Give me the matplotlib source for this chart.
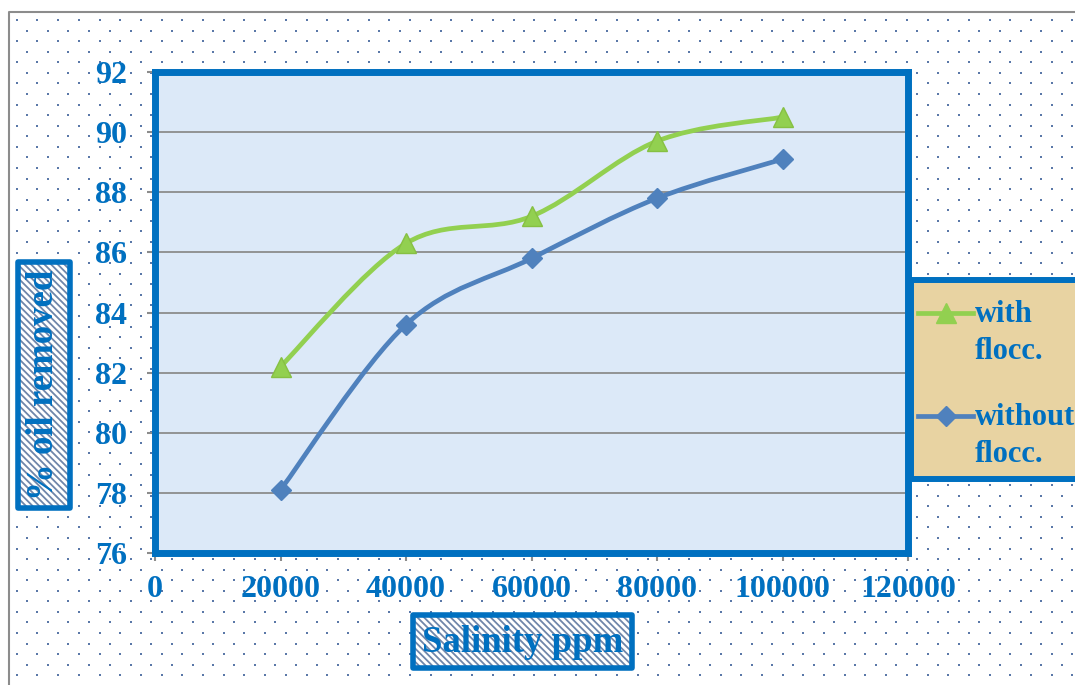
import numpy as np
import matplotlib
matplotlib.use("Agg")
import matplotlib.pyplot as plt
from matplotlib.path import Path
from matplotlib.patches import PathPatch, Rectangle
from matplotlib.lines import Line2D

salinity = [20000, 40000, 60000, 80000, 100000]
with_flocc = [82.2, 86.3, 87.2, 89.7, 90.5]
without_flocc = [78.1, 83.6, 85.8, 87.8, 89.1]

BLUE = "#0070c0"
GREEN = "#92d050"
STEEL = "#4f81bd"
SERIF = "Liberation Serif"

W, H = 1075, 685


def smooth_path(xs, ys):
    # cubic bezier through every point, tangents from neighbouring points
    pts = np.column_stack([xs, ys]).astype(float)
    n = len(pts)
    verts = [pts[0]]
    codes = [Path.MOVETO]
    for i in range(n - 1):
        p_prev = pts[i - 1] if i > 0 else pts[i]
        p_next2 = pts[i + 2] if i + 2 < n else pts[i + 1]
        c1 = pts[i] + (pts[i + 1] - p_prev) / 6
        c2 = pts[i + 1] - (p_next2 - pts[i]) / 6
        verts += [c1, c2, pts[i + 1]]
        codes += [Path.CURVE4] * 3
    return Path(verts, codes)


plt.rcParams["hatch.linewidth"] = 1.3
fig = plt.figure(figsize=(W / 100, H / 100), dpi=100)

# page background: dotted pattern in pixel coordinates
bg = fig.add_axes([0, 0, 1, 1], zorder=-5)
bg.set_xlim(0, W)
bg.set_ylim(H, 0)
bg.axis("off")
dx, dy = 20.7, 10.57
dots_x, dots_y = [], []
for r in range(70):
    yy = 20 + r * dy
    x0 = 16.7 if r % 2 == 0 else 27.0
    for c in range(60):
        dots_x.append(x0 + c * dx)
        dots_y.append(yy)
bg.scatter(dots_x, dots_y, s=2.2, marker="s", color="#5a78a8", linewidths=0, zorder=1)
bg.plot([9, 9, W + 5], [H + 5, 12, 12], color="#8c8c8c", lw=1.5, zorder=2)

# hatched boxes behind the axis titles
for (x0, y0, w, h) in [(18, 262, 52, 246), (413, 615, 219, 53)]:
    bg.add_patch(Rectangle((x0, y0), w, h, facecolor="white", edgecolor="#6f86aa",
                           hatch="\\\\\\\\\\", lw=0, zorder=3))
    bg.add_patch(Rectangle((x0, y0), w, h, fill=False, edgecolor=BLUE, lw=4,
                           zorder=4, joinstyle="round"))
bg.text(44, 385, "% oil removed", rotation=90, ha="center", va="center",
        family=SERIF, fontweight="bold", fontsize=26.5, color=BLUE, zorder=5)
bg.text(523, 642, "Salinity ppm", ha="center", va="center",
        family=SERIF, fontweight="bold", fontsize=26.5, color=BLUE, zorder=5)

ax = fig.add_axes([155 / W, 1 - 553 / H, (908 - 155) / W, (553 - 72) / H])
ax.set_facecolor("#dce9f8")
ax.set_xlim(0, 120000)
ax.set_ylim(76, 92)
ax.set_xticks(np.arange(0, 120001, 20000))
ax.set_yticks(np.arange(76, 93, 2))
ax.yaxis.grid(True, color="#8c8c8c", lw=1.3)
ax.set_axisbelow(True)
for s in ax.spines.values():
    s.set_color(BLUE)
    s.set_linewidth(5)
ax.tick_params(axis="both", direction="out", length=6, width=1.5, color="#8c8c8c",
               labelcolor=BLUE, labelsize=23)
ax.tick_params(axis="y", pad=14)
ax.tick_params(axis="x", pad=10)
for lab in ax.get_xticklabels() + ax.get_yticklabels():
    lab.set_family(SERIF)
    lab.set_fontweight("bold")

ax.add_patch(PathPatch(smooth_path(salinity, with_flocc), fill=False,
                       edgecolor=GREEN, lw=3.4, capstyle="round", zorder=3))
ax.plot(salinity, with_flocc, linestyle="none", marker="^", markersize=14,
        color=GREEN, markeredgecolor="#86c043", zorder=4)
ax.add_patch(PathPatch(smooth_path(salinity, without_flocc), fill=False,
                       edgecolor=STEEL, lw=3.4, capstyle="round", zorder=3))
ax.plot(salinity, without_flocc, linestyle="none", marker="D", markersize=10,
        color=STEEL, zorder=4)

# legend panel, running off the right edge
fig.add_artist(Rectangle((911 / W, 1 - 479 / H), 200 / W, 199 / H,
                         transform=fig.transFigure, facecolor="#e8d3a2",
                         edgecolor=BLUE, lw=4.3, zorder=1))

blank = Line2D([], [], color="none")
handles = [
    Line2D([], [], color=GREEN, lw=3.4, marker="^", markersize=14),
    blank, blank,
    Line2D([], [], color=STEEL, lw=3.4, marker="D", markersize=10),
    blank,
]
labels = ["with", "flocc.", " ", "without", "flocc."]
leg = fig.legend(handles, labels, loc="upper left",
                 bbox_to_anchor=(918 / W, 1 - 300 / H), bbox_transform=fig.transFigure,
                 borderaxespad=0, borderpad=0, handlelength=1.8, handleheight=0.4,
                 handletextpad=0.05, labelspacing=0.26, frameon=False,
                 prop={"family": SERIF, "weight": "bold", "size": 22})
leg.set_zorder(6)
for t in leg.get_texts():
    t.set_color(BLUE)
leg.get_texts()[2].set_fontsize(10)

fig.savefig("out.png", dpi=100)
